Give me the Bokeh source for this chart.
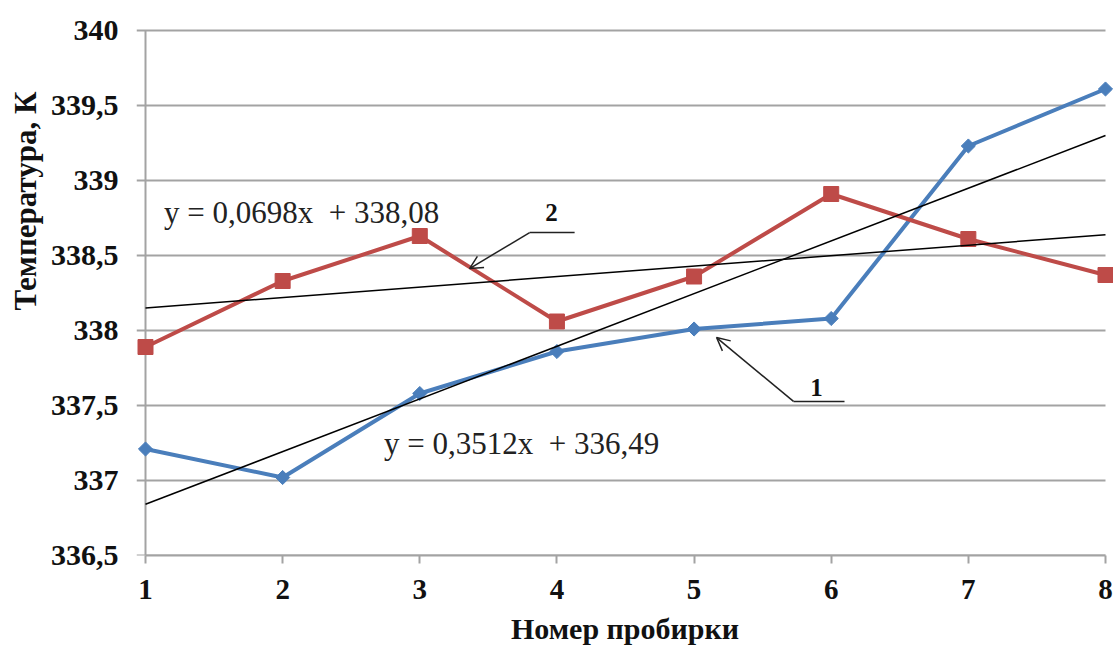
import math

from bokeh.plotting import figure
from bokeh.models import Range1d, FixedTicker, Label, Arrow, OpenHead, Title
from bokeh.embed import file_html
from bokeh.resources import INLINE

# Test tube numbers and measured temperatures (K)
tube = [1, 2, 3, 4, 5, 6, 7, 8]
temp_1 = [337.21, 337.02, 337.58, 337.86, 338.01, 338.08, 339.23, 339.61]
temp_2 = [337.89, 338.33, 338.63, 338.06, 338.36, 338.91, 338.61, 338.37]

# Linear trends: (slope, intercept)
trend_1 = (0.3512, 336.49)
trend_2 = (0.0698, 338.08)

y_ticks = [336.5, 337, 337.5, 338, 338.5, 339, 339.5, 340]
y_tick_labels = ["336,5", "337", "337,5", "338", "338,5", "339", "339,5", "340"]
x_ticks = [1, 2, 3, 4, 5, 6, 7, 8]

BLUE = "#4a7ebb"
RED = "#be4b48"
GRID = "#a3a3a3"
INK = "#111111"
SERIF = "Liberation Serif"

# a little room around the axes so end markers are not cut off
X0 = 1 - 9 / 137.14
X1 = 8 + 8 / 137.14
Y1 = 340 + 5 / 150

p = figure(
    frame_width=977, frame_height=530,
    x_range=Range1d(X0, X1), y_range=Range1d(336.5, Y1),
    output_backend="svg", toolbar_location=None,
    min_border_left=135, min_border_right=1,
    min_border_top=25, min_border_bottom=92,
)
p.outline_line_color = None
p.xgrid.visible = False
p.ygrid.visible = False

# y axis: labels only, the lines are drawn as segments below
ya = p.yaxis[0]
ya.ticker = FixedTicker(ticks=y_ticks)
ya.major_label_overrides = {t: s for t, s in zip(y_ticks, y_tick_labels)}
ya.axis_line_color = None
ya.major_tick_out = 0
ya.major_tick_in = 0
ya.minor_tick_line_color = None
ya.major_label_standoff = 18
ya.major_label_text_font = SERIF
ya.major_label_text_font_style = "bold"
ya.major_label_text_font_size = "30px"
ya.major_label_text_color = INK

xa = p.xaxis[0]
xa.ticker = FixedTicker(ticks=x_ticks)
xa.bounds = (1, 8)
xa.axis_line_color = GRID
xa.axis_line_width = 2
xa.major_tick_line_color = GRID
xa.major_tick_line_width = 2
xa.major_tick_out = 8
xa.major_tick_in = 0
xa.minor_tick_line_color = None
xa.major_label_standoff = 16
xa.major_label_text_font = SERIF
xa.major_label_text_font_style = "bold"
xa.major_label_text_font_size = "29px"
xa.major_label_text_color = INK
xa.axis_label = "Номер пробирки"
xa.axis_label_standoff = 10
xa.axis_label_text_font = SERIF
xa.axis_label_text_font_style = "bold"
xa.axis_label_text_font_size = "30px"
xa.axis_label_text_color = INK

# vertical title, placed toward the upper part of the left margin
p.add_layout(Title(text="Температура, К", align="right", offset=66,
                   text_font=SERIF, text_font_style="bold", text_font_size="31px",
                   text_color=INK), "left")

# horizontal grid lines, extended left past the y axis as tick marks
p.segment(x0=[X0] * len(y_ticks), x1=[8] * len(y_ticks), y0=y_ticks, y1=y_ticks,
          line_color=GRID, line_width=2)
# vertical axis line at the first tube
p.segment(x0=[1], x1=[1], y0=[y_ticks[0]], y1=[y_ticks[-1]], line_color=GRID, line_width=2)

# series 1 (blue, diamonds) and series 2 (red, squares)
p.line(tube, temp_1, line_color=BLUE, line_width=4)
p.scatter(tube, temp_1, marker="square", angle=math.pi / 4, size=10,
          fill_color=BLUE, line_color=BLUE)
p.line(tube, temp_2, line_color=RED, line_width=4)
p.scatter(tube, temp_2, marker="square", size=15, fill_color=RED, line_color=RED)

# trend lines over the whole axis span
xs_tr = [x_ticks[0], x_ticks[-1]]
for slope, icpt in (trend_1, trend_2):
    p.line(xs_tr, [slope * x + icpt for x in xs_tr], line_color="black", line_width=1.5)


def fmt(v, nd):
    return f"{v:.{nd}f}".replace(".", ",")


NBSP = "\u00a0"
eq_1 = f"y = {fmt(trend_1[0], 4)}x {NBSP}+ {fmt(trend_1[1], 2)}"
eq_2 = f"y = {fmt(trend_2[0], 4)}x {NBSP}+ {fmt(trend_2[1], 2)}"

for txt, x, y in ((eq_2, 2.138, 338.787), (eq_1, 3.742, 337.247)):
    p.add_layout(Label(x=x, y=y, text=txt, text_font=SERIF, text_font_size="31px",
                       text_align="center", text_baseline="middle", text_color="#222222"))

# series callouts with leader lines
for num, tx, ty, hx0, hx1, hy, tipx, tipy in (
    ("2", 3.96, 338.787, 3.801, 4.129, 338.653, 3.363, 338.413),
    ("1", 5.893, 337.62, 5.725, 6.097, 337.527, 5.164, 337.953),
):
    p.line([hx0, hx1], [hy, hy], line_color="#222222", line_width=1.5)
    p.add_layout(Arrow(x_start=hx0, y_start=hy, x_end=tipx, y_end=tipy,
                       line_color="#222222", line_width=1.5,
                       end=OpenHead(size=13, line_color="#222222", line_width=1.5)))
    p.add_layout(Label(x=tx, y=ty, text=num, text_font=SERIF, text_font_style="bold",
                       text_font_size="25px", text_align="center", text_baseline="middle",
                       text_color=INK))

open("out.html", "w").write(file_html(p, INLINE))
